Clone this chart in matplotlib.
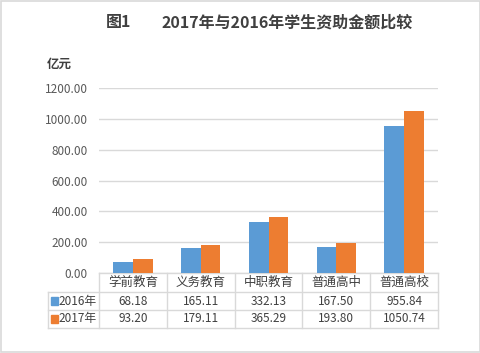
import matplotlib.pyplot as plt
import numpy as np
from matplotlib.patches import Rectangle

plt.rcParams['font.family'] = ['Noto Sans CJK SC', 'DejaVu Sans']

categories = ['学前教育', '义务教育', '中职教育', '普通高中', '普通高校']
series_names = ['2016年', '2017年']
values_2016 = [68.18, 165.11, 332.13, 167.50, 955.84]
values_2017 = [93.20, 179.11, 365.29, 193.80, 1050.74]
yticks = [0, 200, 400, 600, 800, 1000, 1200]

blue = '#5B9BD5'
orange = '#ED7D31'
grid = '#D9D9D9'
txt = '#404040'

fig = plt.figure(figsize=(4.81, 3.53), dpi=100)
fig.patches.append(Rectangle((0.002, 0.003), 0.995, 0.994, transform=fig.transFigure,
                             fill=False, edgecolor=grid, linewidth=1.2))

ax = fig.add_axes([99 / 481, 1 - 273 / 353, 339 / 481, 185 / 353])
x = np.arange(len(categories))
w = 0.29
ax.bar(x - w / 2, values_2016, w, color=blue, zorder=3)
ax.bar(x + w / 2, values_2017, w, color=orange, zorder=3)
ax.set_xlim(-0.5, 4.5)
ax.set_ylim(0, 1200)
ax.set_yticks(yticks)
ax.set_yticklabels(['%.2f' % v for v in yticks], fontsize=8.5, color='#595959')
ax.set_xticks([])
ax.yaxis.grid(True, color=grid, linewidth=1)
ax.tick_params(axis='y', length=0, pad=8)
for s in ax.spines.values():
    s.set_visible(False)

# data table under the plot
h0, h1, h2 = -0.103, -0.200, -0.297
lx = -0.150
kw = dict(transform=ax.transAxes, color=grid, linewidth=1, clip_on=False)
ax.plot([0, 1], [0, 0], **kw)
for yy in (h0, h1, h2):
    ax.plot([lx, 1], [yy, yy], **kw)
for k in range(6):
    ax.plot([k / 5, k / 5], [0, h2], **kw)
ax.plot([lx, lx], [h0, h2], **kw)

for i, c in enumerate(categories):
    cx = (i + 0.5) / 5
    ax.text(cx, h0 / 2, c, transform=ax.transAxes, ha='center', va='center',
            fontsize=9, color=txt)
    ax.text(cx, (h0 + h1) / 2, '%.2f' % values_2016[i], transform=ax.transAxes,
            ha='center', va='center', fontsize=8.5, color=txt)
    ax.text(cx, (h1 + h2) / 2, '%.2f' % values_2017[i], transform=ax.transAxes,
            ha='center', va='center', fontsize=8.5, color=txt)

for name, col, yy in [(series_names[0], blue, (h0 + h1) / 2), (series_names[1], orange, (h1 + h2) / 2)]:
    ax.add_patch(Rectangle((-0.141, yy - 0.021), 0.019, 0.042, transform=ax.transAxes,
                           color=col, clip_on=False))
    ax.text(-0.119, yy, name, transform=ax.transAxes, ha='left', va='center',
            fontsize=8.5, color=txt)

fig.text(106 / 481, 1 - 22 / 353, '图1', fontsize=11.5, fontweight='bold', color=txt, va='center')
fig.text(162 / 481, 1 - 22 / 353, '2017年与2016年学生资助金额比较', fontsize=11.5,
         fontweight='bold', color=txt, va='center')
fig.text(47 / 481, 1 - 64 / 353, '亿元', fontsize=9, fontweight='bold', color=txt, va='center')

plt.savefig('out.png', dpi=100)
